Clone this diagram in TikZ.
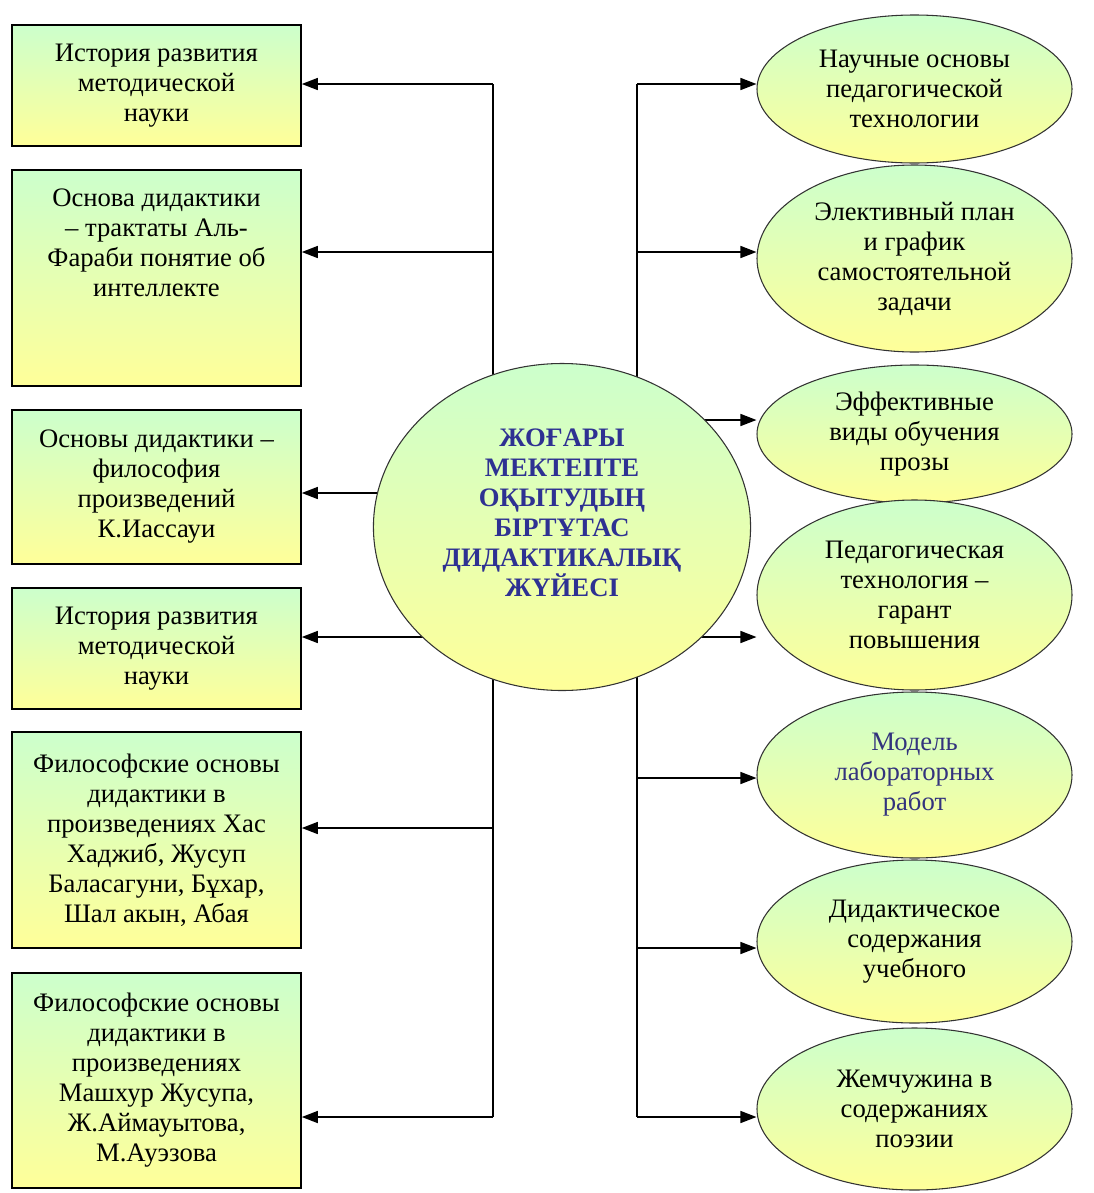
\documentclass[tikz,border=0pt]{standalone}
\usepackage{fontspec}
\setmainfont{Liberation Serif}
\usepackage{tikz}
\usetikzlibrary{shapes, arrows.meta, positioning}
\definecolor{boxgreen}{RGB}{204,255,204}
\definecolor{boxyellow}{RGB}{255,255,153}
\definecolor{hubblue}{RGB}{46,49,146}
\definecolor{modblue}{RGB}{51,51,125}
\tikzstyle{lbox} = [rectangle, draw=black, line width=1.2pt, top color=boxgreen, bottom color=boxyellow, minimum width=216.75pt, inner sep=0pt, align=center, font=\fontsize{20}{22.5}\selectfont]
\tikzstyle{rnode} = [ellipse, draw=black!80, line width=0.8pt, top color=boxgreen, bottom color=boxyellow, minimum width=236.25pt, inner sep=0pt, align=center, font=\fontsize{20}{22.5}\selectfont]
\tikzstyle{hub} = [ellipse, draw=black!80, line width=0.8pt, top color=boxgreen, bottom color=boxyellow, minimum width=281.25pt, minimum height=245.25pt, inner sep=0pt, text=hubblue, font=\bfseries\fontsize{20}{22.5}\selectfont]
\tikzstyle{line} = [draw, line width=1.1pt]
\tikzstyle{arr} = [draw, line width=1.1pt, -{Triangle[length=12pt, width=9pt]}]

\begin{document}
\begin{tikzpicture}[x=0.75pt, y=-0.75pt]
				\useasboundingbox (0,0) rectangle (1094,1193);

				\node [lbox, minimum height=90.75pt] (l1) at (156.5, 85.5) {История развития\\ методической\\ науки};
				\node [lbox, minimum height=162pt] (l2) at (156.5, 278) {\parbox[c][162pt][t]{214pt}{\centering\vspace*{14pt}Основа дидактики\\ – трактаты Аль-\\ Фараби понятие об\\ интеллекте}};
				\node [lbox, minimum height=115.5pt] (l3) at (156.5, 487) {Основы дидактики –\\ философия\\ произведений\\ К.Иассауи};
				\node [lbox, minimum height=90.75pt] (l4) at (156.5, 648.5) {История развития\\ методической\\ науки};
				\node [lbox, minimum height=162pt] (l5) at (156.5, 840) {Философские основы\\ дидактики в\\ произведениях Хас\\ Хаджиб, Жусуп\\ Баласагуни, Бұхар,\\ Шал акын, Абая};
				\node [lbox, minimum height=161.25pt] (l6) at (156.5, 1080.5) {Философские основы\\ дидактики в\\ произведениях\\ Машхур Жусупа,\\ Ж.Аймауытова,\\ М.Ауэзова};

				\node [rnode, minimum height=111pt] (r1) at (914.5, 89) {Научные основы\\ педагогической\\ технологии};
				\node [rnode, minimum height=140.25pt] (r2) at (914.5, 258.5) {Элективный план\\ и график\\ самостоятельной\\ задачи};
				\node [rnode, minimum height=103.5pt] (r3) at (914.5, 434) {Эффективные\\ виды обучения\\ прозы};
				\node [rnode, minimum height=142.5pt] (r4) at (914.5, 595) {Педагогическая\\ технология –\\ гарант\\ повышения};
				\node [rnode, minimum height=124.5pt, text=modblue] (r5) at (914.5, 775) {Модель\\ лабораторных\\ работ};
				\node [rnode, minimum height=122.25pt] (r6) at (914.5, 941.5) {Дидактическое\\ содержания\\ учебного};
				\node [rnode, minimum height=121.5pt] (r7) at (914.5, 1109) {Жемчужина в\\ содержаниях\\ поэзии};

				% trunk levels
				\coordinate (hubc) at (562, 527);
				\coordinate (lt1) at (493, 84);
				\coordinate (lt2) at (493, 252);
				\coordinate (lt5) at (493, 828);
				\coordinate (lt6) at (493, 1117);
				\coordinate (rt1) at (637, 84);
				\coordinate (rt2) at (637, 252);
				\coordinate (rt5) at (637, 778);
				\coordinate (rt6) at (637, 948);
				\coordinate (rt7) at (637, 1117);
				\coordinate (hl3) at (562, 493);
				\coordinate (hl4) at (562, 637);
				\coordinate (hr3) at (562, 420);
				\coordinate (hr4) at (562, 637);

				\path [line] (lt1) -- (lt6);
				\path [line] (rt1) -- (rt7);
				\path [arr] (lt1) -- (lt1 -| l1.east);
				\path [arr] (lt2) -- (lt2 -| l2.east);
				\path [arr] (hl3) -- (hl3 -| l3.east);
				\path [arr] (hl4) -- (hl4 -| l4.east);
				\path [arr] (lt5) -- (lt5 -| l5.east);
				\path [arr] (lt6) -- (lt6 -| l6.east);
				\path [arr] (rt1) -- (rt1 -| r1.west);
				\path [arr] (rt2) -- (rt2 -| r2.west);
				\path [arr] (hr3) -- (hr3 -| r3.west);
				\path [arr] (hr4) -- (hr4 -| r4.west);
				\path [arr] (rt5) -- (rt5 -| r5.west);
				\path [arr] (rt6) -- (rt6 -| r6.west);
				\path [arr] (rt7) -- (rt7 -| r7.west);

				% the hub goes last so it hides the inner ends
				\node [hub] (hub) at (hubc) {\parbox[c][170pt][c]{200pt}{\centering ЖОҒАРЫ\\ МЕКТЕПТЕ\\ ОҚЫТУДЫҢ\\ БІРТҰТАС\\ ДИДАКТИКАЛЫҚ\\ ЖҮЙЕСІ\par\vspace{21pt}}};
			\end{tikzpicture}
\end{document}
